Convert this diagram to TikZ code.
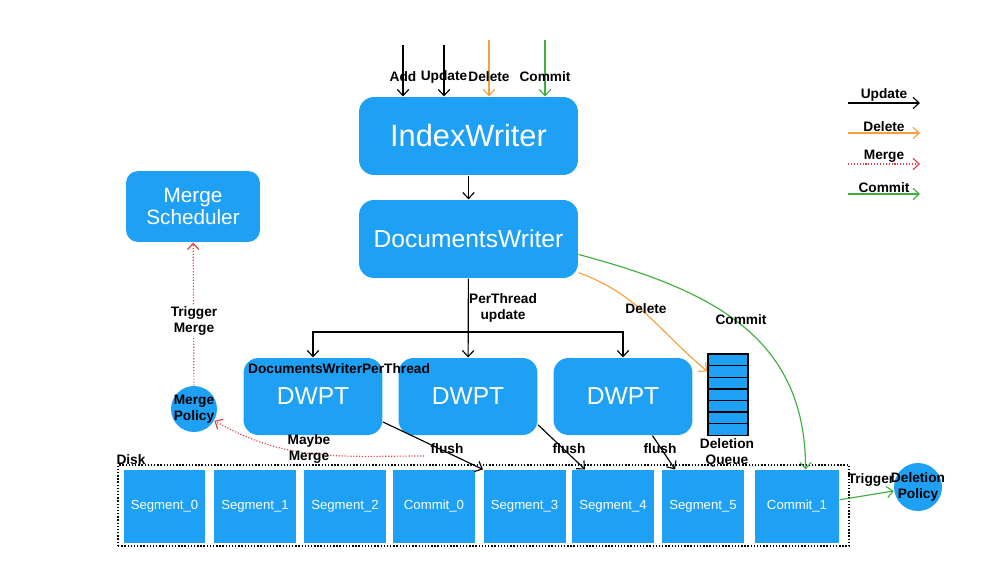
\documentclass[tikz,border=0pt]{standalone}
\usepackage{fontspec}
\setmainfont{Liberation Sans}
\usepackage{tikz}
\usetikzlibrary{arrows.meta,positioning}

\definecolor{lblue}{RGB}{30,160,245}
\definecolor{dorange}{RGB}{245,160,60}
\definecolor{dgreen}{RGB}{60,175,60}
\definecolor{dred}{RGB}{232,60,60}

\begin{document}
\begin{tikzpicture}[x=0.02cm,y=-0.02cm,>={Straight Barb[length=3.5pt,width=6.5pt]},line width=0.65pt,
   blk/.style={fill=lblue,text=white,rounded corners=0.3cm,minimum width=4.38cm,minimum height=1.56cm,inner sep=0pt,font=\fontsize{14}{16}\selectfont},
   dwpt/.style={blk,minimum width=2.78cm,minimum height=1.54cm},
   seg/.style={fill=lblue,text=white,minimum width=1.64cm,minimum height=1.46cm,inner sep=0pt,font=\fontsize{7.5}{9}\selectfont},
   cell/.style={draw=black,fill=lblue,minimum width=0.8cm,minimum height=0.232cm,inner sep=0pt,line width=0.8pt},
   pol/.style={circle,fill=lblue,inner sep=0pt},
   lbl/.style={align=center,inner sep=1pt,font=\bfseries\fontsize{7.8}{9}\selectfont},
   mrg/.style={dred,densely dotted}]
   \useasboundingbox (0,0) rectangle (1006,575);

   \node[blk,font=\fontsize{17.5}{19}\selectfont] (iw) at (468.5,136) {IndexWriter};
   \node[blk]               (dw) at (468.5,239) {DocumentsWriter};
   \node[blk,minimum width=2.68cm,minimum height=1.42cm,rounded corners=0.24cm,align=center,
         font=\fontsize{11.8}{13}\selectfont] (ms) at (193,206.5) {Merge\\Scheduler};

   \node[dwpt] (dw1) at (313,396.5) {DWPT};
   \node[dwpt] (dw2) at (468,396.5) {DWPT};
   \node[dwpt] (dw3) at (623,396.5) {DWPT};
   \node[lbl]  (dwl) at (339,369) {DocumentsWriterPerThread};

   \foreach \i in {1,...,7}
      \node[cell] (q\i) at (728,{348.2+11.6*\i}) {};
   \node[lbl] (dql) at (727,453) {Deletion\\Queue};

   \node[pol,minimum size=0.92cm] (mp) at (194,409) {};
   \node[lbl] (mpl) at (mp) {Merge\\Policy};
   \node[pol,minimum size=0.96cm] (dp) at (918,487) {};
   \node[lbl] (dpl) at (dp) {Deletion\\Policy};

   % disk
   \node[draw,densely dotted,line width=0.8pt,minimum width=14.62cm,minimum height=1.62cm] (disk) at (483.5,505.5) {};
   \node[lbl] (diskl) at (131,460) {Disk};
   \node[seg] (s0) at (164.5,506.5) {Segment\_0};
   \node[seg] (s1) at (255,506.5)   {Segment\_1};
   \node[seg] (s2) at (345,506.5)   {Segment\_2};
   \node[seg] (c0) at (434,506.5)   {Commit\_0};
   \node[seg] (s3) at (524.5,506.5) {Segment\_3};
   \node[seg] (s4) at (613,506.5)   {Segment\_4};
   \node[seg] (s5) at (703,506.5)   {Segment\_5};
   \node[seg,minimum width=1.68cm] (c1) at (797,506.5) {Commit\_1};

   % inputs
   \coordinate (ia) at (403,45);
   \coordinate (iu) at (444,45);
   \coordinate (id) at (489,40);
   \coordinate (ic) at (545,40);
   \draw[->] (ia) -- (ia |- iw.north);
   \draw[->] (iu) -- (iu |- iw.north);
   \draw[->,dorange] (id) -- (id |- iw.north);
   \draw[->,dgreen] (ic) -- (ic |- iw.north);
   \node[lbl] at (403,77) {Add};
   \node[lbl] at (444,77) {Update};
   \node[lbl] at (489,77) {Delete};
   \node[lbl] at (545,77) {Commit};

   \draw[->] (iw) -- (dw);
   \coordinate (sp) at (468,332);
   \draw[->] (dw) -- (dw2);
   \draw[->] (sp) -| (dw1.north);
   \draw[->] (sp) -| (dw3.north);
   \node[lbl] at (503,308) {PerThread\\update};

   \draw[->,dorange] (dw.-17) to[out=-20,in=140] (q2.west);
   \node[lbl] at (646,309) {Delete};
   \draw[->,dgreen] (dw.-8) to[out=-15,in=90,looseness=1.1] (c1.77);
   \node[lbl] at (741,320) {Commit};

   % flush
   \draw[->] (dw1.-20) -- (s3.north west);
   \draw[->] (dw2.-22) -- (s4.127);
   \draw[->] (dw3.-53) -- (s5.127);
   \node[lbl] at (447,449) {flush};
   \node[lbl] at (569,449) {flush};
   \node[lbl] at (660,449) {flush};

   % merge
   \coordinate (mm) at (424,456);
   \draw[->,mrg] (mm) to[out=180,in=-30] (mp.-30);
   \node[lbl] at (309,449) {Maybe\\Merge};
   \draw[->,mrg] (mp) -- (ms);
   \node[lbl,fill=white] at (194,321) {Trigger\\Merge};

   \draw[->,dgreen] (c1.9) -- (dp);
   \node[lbl] at (871,480) {Trigger};

   % legend
   \coordinate (l1) at (848,103);
   \coordinate (l2) at (848,133);
   \coordinate (l3) at (848,164);
   \coordinate (l4) at (848,194);
   \draw[->] (l1) -- ++(72,0) node[lbl,midway,above=-0.5pt] {Update};
   \draw[->,dorange] (l2) -- ++(72,0) node[lbl,midway,above=-0.5pt,text=black] {Delete};
   \draw[->,mrg] (l3) -- ++(72,0) node[lbl,midway,above=-0.5pt,text=black] {Merge};
   \draw[->,dgreen] (l4) -- ++(72,0) node[lbl,midway,above=-0.5pt,text=black] {Commit};
\end{tikzpicture}
\end{document}
